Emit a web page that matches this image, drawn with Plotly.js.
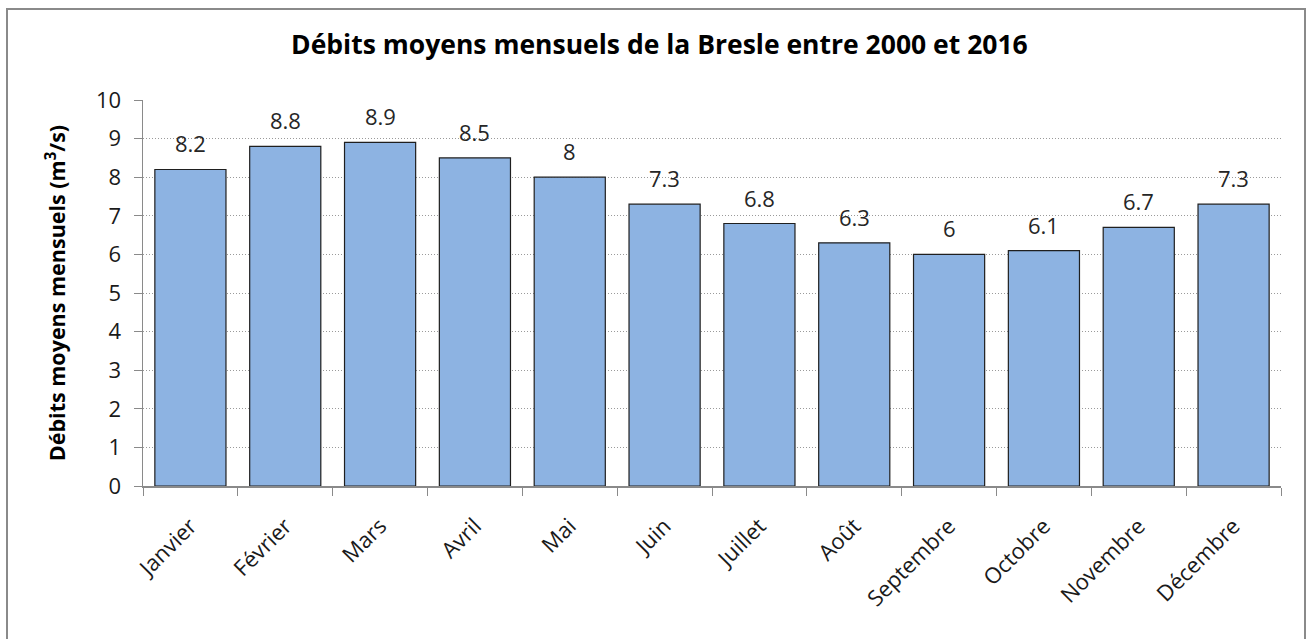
<!DOCTYPE html>
<html>
<head>
<meta charset="utf-8">
<script src="https://cdn.plot.ly/plotly-3.0.1.min.js"></script>
<style>
  html, body { margin: 0; padding: 0; width: 1311px; height: 639px; overflow: hidden; background: #ffffff; }
  #frame { position: absolute; left: 6px; top: 8px; width: 1300px; height: 700px; border: 2px solid #8a8a8a; box-sizing: border-box; }
  #chart { position: absolute; left: 0; top: 0; width: 1311px; height: 639px; }
</style>
</head>
<body>
<div id="frame"></div>
<div id="chart"></div>
<script>
const months = ["Janvier", "Février", "Mars", "Avril", "Mai", "Juin", "Juillet", "Août", "Septembre", "Octobre", "Novembre", "Décembre"];
const debits = [8.2, 8.8, 8.9, 8.5, 8, 7.3, 6.8, 6.3, 6, 6.1, 6.7, 7.3];
const yTicks = [0, 1, 2, 3, 4, 5, 6, 7, 8, 9, 10];

const FONT = "'Open Sans', 'Noto Sans', sans-serif";

const trace = {
  type: "bar",
  x: months,
  y: debits,
  marker: { color: "#8DB3E2", line: { color: "#1f1f1f", width: 1.2 } },
  hoverinfo: "x+y"
};

const annotations = months.map((m, i) => ({
  x: m, y: debits[i], xref: "x", yref: "y",
  text: String(debits[i]),
  showarrow: false,
  yanchor: "middle",
  yshift: 26,
  font: { family: FONT, size: 22, color: "#262626" }
}));

const layout = {
  width: 1311, height: 639,
  paper_bgcolor: "rgba(0,0,0,0)",
  plot_bgcolor: "rgba(0,0,0,0)",
  margin: { l: 143, r: 30, t: 100, b: 153 },
  bargap: 0.25,
  showlegend: false,
  title: {
    text: "<b>Débits moyens mensuels de la Bresle entre 2000 et 2016</b>",
    font: { family: FONT, size: 26.5, color: "#000000" },
    x: 0.503, xanchor: "center",
    y: 0.93, yanchor: "middle", yref: "container"
  },
  xaxis: {
    type: "category",
    tickangle: -45,
    tickson: "boundaries",
    ticks: "outside",
    ticklen: 8,
    tickcolor: "#8a8a8a",
    showline: true,
    linecolor: "#8a8a8a",
    linewidth: 1.5,
    showgrid: false,
    ticklabelstandoff: 17,
    tickfont: { family: FONT, size: 22, color: "#1a1a1a" }
  },
  yaxis: {
    range: [0, 10],
    tickvals: yTicks,
    ticktext: yTicks.map(String),
    ticks: "outside",
    ticklen: 8,
    tickcolor: "#8a8a8a",
    showline: true,
    linecolor: "#8a8a8a",
    linewidth: 1.5,
    showgrid: true,
    gridcolor: "#9a9a9a",
    gridwidth: 1,
    griddash: "1px,2px",
    zeroline: false,
    ticklabelstandoff: 8,
    tickfont: { family: FONT, size: 22, color: "#1a1a1a" },
    title: {
      text: "<b>Débits moyens mensuels (m<sup>3</sup>/s)</b>",
      font: { family: FONT, size: 21.5, color: "#000000" },
      standoff: 24
    }
  },
  annotations: annotations
};

Plotly.newPlot("chart", [trace], layout, { displayModeBar: false, staticPlot: true });
</script>
</body>
</html>
